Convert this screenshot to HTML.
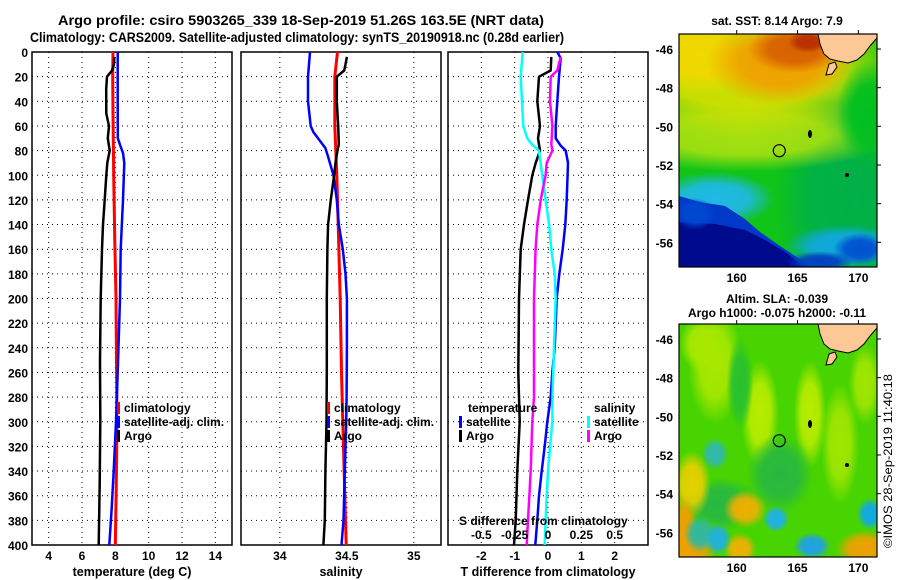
<!DOCTYPE html>
<html><head><meta charset="utf-8">
<style>
html,body{margin:0;padding:0;background:#fff;}
svg{display:block;font-family:"Liberation Sans",Arial,sans-serif;font-weight:bold;}
</style></head>
<body>
<svg id="chart" width="900" height="580" viewBox="0 0 900 580" xmlns="http://www.w3.org/2000/svg">
<defs id="defs">
  <clipPath id="clipTop"><rect x="679" y="34" width="198" height="233"/></clipPath>
  <clipPath id="clipBot"><rect x="679" y="324" width="198" height="233"/></clipPath>
</defs>
<text x="58" y="25" font-size="13.5" textLength="486" lengthAdjust="spacingAndGlyphs">Argo profile: csiro 5903265_339 18-Sep-2019 51.26S 163.5E (NRT data)</text>
<text x="30" y="42" font-size="13.5" textLength="534" lengthAdjust="spacingAndGlyphs">Climatology: CARS2009. Satellite-adjusted climatology: synTS_20190918.nc (0.28d earlier)</text>
<g id="panels"></g>
<g id="maps"></g>
<text transform="translate(892,548) rotate(-90)" font-size="12" font-weight="normal" textLength="174" lengthAdjust="spacingAndGlyphs">©IMOS 28-Sep-2019 11:40:18</text>
</svg>
<script>
// ---------- data ----------
const depthTicks = [0,20,40,60,80,100,120,140,160,180,200,220,240,260,280,300,320,340,360,380,400];
const tempTicks = [4,6,8,10,12,14];
const salTicks = [34,34.5,35];
const diffTTicks = [-2,-1,0,1,2];
const diffSTicks = [-0.5,-0.25,0,0.25,0.5];

const climTDepth = [0,20,50,100,150,200,250,300,350,400];
const climTVal   = [7.86,7.84,7.86,7.9,7.96,8.04,8.07,8.1,8.06,8.0];
const satTDepth = [0,40,70,76,82,90,120,160,200,260,300,340,370,400];
const satTVal   = [8.14,8.14,8.15,8.3,8.46,8.54,8.46,8.32,8.28,8.14,8.04,7.9,7.78,7.64];
const argoTDepth = [4,10,15,20,30,50,60,70,80,90,100,120,140,160,200,250,300,350,400];
const argoTVal   = [7.94,7.92,7.8,7.5,7.45,7.46,7.62,7.55,7.66,7.52,7.46,7.36,7.26,7.2,7.12,7.08,7.1,7.06,7.0];

const climSDepth = [0,20,60,100,140,200,260,300,360,400];
const climSVal   = [34.43,34.41,34.41,34.425,34.435,34.45,34.46,34.47,34.485,34.495];
const satSDepth = [0,20,40,60,65,70,78,85,100,120,140,160,180,200,240,280,300,340,380,400];
const satSVal   = [34.225,34.21,34.21,34.23,34.25,34.285,34.34,34.36,34.4,34.425,34.44,34.47,34.49,34.5,34.5,34.498,34.495,34.485,34.475,34.46];
const argoSDepth = [4,10,15,20,40,60,75,80,90,100,120,140,160,200,260,300,340,380,400];
const argoSVal   = [34.5,34.49,34.48,34.425,34.425,34.435,34.44,34.43,34.415,34.405,34.38,34.36,34.355,34.35,34.35,34.348,34.34,34.335,34.325];

const dSatTDepth = [0,5,20,40,60,70,76,80,90,120,140,160,180,200,240,260,280,300,320,340,360,380,400];
const dSatTVal   = [0.28,0.38,0.33,0.28,0.23,0.23,0.38,0.53,0.6,0.56,0.52,0.44,0.34,0.26,0.2,0.13,0.08,-0.02,-0.1,-0.19,-0.27,-0.32,-0.38];
const dArgoTDepth = [4,15,20,40,60,70,80,90,100,120,140,160,200,260,300,340,380,400];
const dArgoTVal   = [0.1,0.08,-0.27,-0.32,-0.24,-0.3,-0.24,-0.37,-0.47,-0.6,-0.72,-0.82,-0.87,-0.89,-0.85,-0.92,-0.97,-1.02];
const dSatSDepth = [0,20,60,70,75,80,100,120,140,160,180,200,240,280,300,320,340,360,380,400];
const dSatSVal   = [-0.19,-0.205,-0.185,-0.155,-0.12,-0.068,-0.043,-0.018,0.008,0.025,0.05,0.058,0.045,0.033,0.033,0.015,0,-0.01,-0.018,-0.025];
const dArgoSDepth = [4,15,20,40,60,75,80,90,100,120,140,160,200,240,280,300,340,380,400];
const dArgoSVal   = [0.095,0.07,0.02,0.015,0.033,0.025,0.033,-0.01,-0.018,-0.055,-0.08,-0.093,-0.105,-0.105,-0.105,-0.118,-0.13,-0.15,-0.16];

const mapLatTicks = [-46,-48,-50,-52,-54,-56];
const mapLonTicks = [160,165,170];
const argoLon = 163.5, argoLat = -51.26;

// ---------- helpers ----------
const NS = "http://www.w3.org/2000/svg";
function mk(tag, attrs, parent){ const e=document.createElementNS(NS,tag); for(const k in attrs) e.setAttribute(k,attrs[k]); parent.appendChild(e); return e; }
const Y0=52, Y1=545;
function yD(d){ return Y0 + d/400*(Y1-Y0); }
function xT(v){ return 32 + (v-3)*200/12; }
function xS(v){ return 241 + (v-33.71)*134; }
function xDT(v){ return 548 + v*33.33; }
function xDS(v){ return 548 + v*4*33.33; }
const panels = document.getElementById('panels');
const defs = document.getElementById('defs');

function panelFrame(name, x0, xTicksArr, xf, tickLabelFn, xTitle, showY){
  const g = mk('g',{},panels);
  
  
  xTicksArr.forEach(t=>{
    const l = mk('line',{x1:xf(t),x2:xf(t),y1:Y0,y2:Y1,stroke:'#000','stroke-width':1,'stroke-dasharray':'1,4'},g);
    
    
    const tx = mk('text',{x:xf(t),y:Y1+15,'font-size':12,'text-anchor':'middle'},g);
    
    
    tx.textContent = tickLabelFn(t);
  });
  depthTicks.forEach(d=>{
    if(d>0 && d<400){
      const l = mk('line',{x1:x0,x2:x0+200,y1:yD(d),y2:yD(d),stroke:'#000','stroke-width':1,'stroke-dasharray':'1,4'},g);
      
      
    }
    if(showY){
      const tx = mk('text',{x:28,y:yD(d)+5,'font-size':12,'text-anchor':'end'},g);
      
      
      tx.textContent = d;
    }
  });
  const r = mk('rect',{x:x0,y:Y0,width:200,height:Y1-Y0,fill:'none',stroke:'#000','stroke-width':1.5},g);
  
  
  const t = mk('text',{x:x0+100,y:576,'font-size':12.5,'text-anchor':'middle'},g);
  
  
  t.textContent = xTitle;
  return g;
}
function series(g, name, depths, vals, xf, color, w){
  const pts = depths.map((d,i)=> xf(vals[i]).toFixed(1)+','+yD(d).toFixed(1)).join(' ');
  const p = mk('polyline',{points:pts,fill:'none',stroke:color,'stroke-width':w,'stroke-linejoin':'round'},g);
  
  
}
function legendItem(g, name, x, y, color, label){
  const r = mk('rect',{x:x,y:y-10,width:3,height:12,fill:color},g);
  
  
  const t = mk('text',{x:x+7,y:y,'font-size':12},g);
  
  
  t.textContent = label;
}

// Temperature panel
const gT = panelFrame('temperature-panel', 32, tempTicks, xT, t=>t, 'temperature (deg C)', true);
series(gT,'climatology-temperature-line',climTDepth,climTVal,xT,'#ff0000',3);
series(gT,'satellite-temperature-line',satTDepth,satTVal,xT,'#0000ff',2.5);
series(gT,'argo-temperature-line',argoTDepth,argoTVal,xT,'#000',2.5);
legendItem(gT,'legend-climatology',117,412,'#ff0000','climatology');
legendItem(gT,'legend-satellite-adj',117,426,'#0000ff','satellite-adj. clim.');
legendItem(gT,'legend-argo',117,440,'#000','Argo');

// Salinity panel
const gS = panelFrame('salinity-panel', 241, salTicks, xS, t=>t, 'salinity', false);
series(gS,'climatology-salinity-line',climSDepth,climSVal,xS,'#ff0000',3);
series(gS,'satellite-salinity-line',satSDepth,satSVal,xS,'#0000ff',2.5);
series(gS,'argo-salinity-line',argoSDepth,argoSVal,xS,'#000',2.5);
legendItem(gS,'legend-s-climatology',327,412,'#ff0000','climatology');
legendItem(gS,'legend-s-satellite-adj',327,426,'#0000ff','satellite-adj. clim.');
legendItem(gS,'legend-s-argo',327,440,'#000','Argo');

// Difference panel
const gD = panelFrame('difference-panel', 448, diffTTicks, xDT, t=>t, 'T difference from climatology', false);
series(gD,'satellite-t-diff-line',dSatTDepth,dSatTVal,xDT,'#0000ff',2.5);
series(gD,'argo-t-diff-line',dArgoTDepth,dArgoTVal,xDT,'#000',2.5);
series(gD,'satellite-s-diff-line',dSatSDepth,dSatSVal,xDS,'#00ffff',2.5);
series(gD,'argo-s-diff-line',dArgoSDepth,dArgoSVal,xDS,'#ff00ff',2.5);
(function(){
  const t1 = mk('text',{x:468,y:412,'font-size':12},gD);
  
  
  t1.textContent='temperature';
  const t2 = mk('text',{x:594,y:412,'font-size':12},gD);
  
  
  t2.textContent='salinity';
  legendItem(gD,'legend-t-satellite',459,426,'#0000ff','satellite');
  legendItem(gD,'legend-t-argo',459,440,'#000','Argo');
  legendItem(gD,'legend-s-satellite',587,426,'#00ffff','satellite');
  legendItem(gD,'legend-s-argo',587,440,'#ff00ff','Argo');
  const st = mk('text',{x:459,y:525,'font-size':12},gD);
  
  
  st.textContent='S difference from climatology';
  diffSTicks.forEach(s=>{
    const tx = mk('text',{x:xDS(s),y:539,'font-size':12,'text-anchor':'middle'},gD);
    
    
    tx.textContent = s;
  });
})();

// ---------- maps ----------
const maps = document.getElementById('maps');
function lonX(l){ return 736.7 + (l-160)*12.17; }
function latYTop(l){ return 49 + (-46-l)*19.33; }
function latYBot(l){ return 339 + (-46-l)*19.33; }
let gradId = 0;
function softFill(color){
  const id = 'rg'+(gradId++);
  const rg = mk('radialGradient',{id:id},defs);
  mk('stop',{offset:'0','stop-color':color,'stop-opacity':1},rg);
  mk('stop',{offset:'0.55','stop-color':color,'stop-opacity':0.9},rg);
  mk('stop',{offset:'1','stop-color':color,'stop-opacity':0},rg);
  return 'url(#'+id+')';
}

function mapFrame(name, top, latf, blobs, titleLines){
  const g = mk('g',{},maps);
  
  
  const inner = mk('g',{'clip-path': top===34?'url(#clipTop)':'url(#clipBot)'},g);
  blobs.forEach(b=>{
    let e;
    if(b[0]==='r') e = mk('rect',{x:b[1],y:top+b[2],width:b[3],height:b[4],fill:b[5]},inner);
    else if(b[0]==='e') e = mk('ellipse',{cx:b[1],cy:top+b[2],rx:b[3]*1.35,ry:b[4]*1.35,fill:softFill(b[5])},inner);
    else e = mk('polygon',{points:b[1].map(p=>p[0]+','+(top+p[1])).join(' '),fill:b[2],'stroke-linejoin':'round'},inner);
    
    
  });
  const land = mk('polygon',{points:[[818,0],[877,0],[877,4],[870,12],[864,20],[857,26],[848,29],[838,27],[830,25],[824,20],[820,10]].map(p=>p[0]+','+(top+p[1])).join(' '),fill:'#fbc896',stroke:'#000','stroke-width':1},inner);
  
  
  const isl = mk('polygon',{points:[[829,30],[835,28],[837,33],[832,40],[826,41]].map(p=>p[0]+','+(top+p[1])).join(' '),fill:'#fbc896',stroke:'#000','stroke-width':1},inner);
  
  
  const isl2 = mk('ellipse',{cx:810,cy:top+100,rx:2,ry:4,fill:'#000'},inner);
  
  
  const isl3 = mk('circle',{cx:847,cy:top+141,r:2,fill:'#000'},inner);
  
  
  const circ = mk('circle',{cx:lonX(argoLon),cy:latf(argoLat),r:6,fill:'none',stroke:'#000','stroke-width':1.2},g);
  
  
  const fr = mk('rect',{x:679,y:top,width:198,height:233,fill:'none',stroke:'#000','stroke-width':1.2},g);
  
  
  mapLatTicks.forEach(l=>{
    const tx = mk('text',{x:673,y:latf(l)+5,'font-size':12,'text-anchor':'end'},g);
    
    
    tx.textContent = l;
    mk('line',{x1:877,x2:881,y1:latf(l),y2:latf(l),stroke:'#000'},g);
  });
  mapLonTicks.forEach(l=>{
    const tx = mk('text',{x:lonX(l),y:top+248,'font-size':12,'text-anchor':'middle'},g);
    
    
    tx.textContent = l;
    mk('line',{x1:lonX(l),x2:lonX(l),y1:top-4,y2:top,stroke:'#000'},g);
  });
  titleLines.forEach((s,i)=>{
    const tx = mk('text',{x:777,y:s[1],'font-size':12,'text-anchor':'middle'},g);
    
    
    tx.textContent = s[0];
  });
}
mapFrame('sst-map',34,latYTop,[
  ['r',679,0,198,233,'#10c418'],
  ['e',855,165,60,100,'#00b048'],
  ['e',745,100,110,28,'#a8e010'],
  ['e',745,35,120,50,'#d8e000'],
  ['e',700,20,40,30,'#f0d800'],
  ['e',780,28,55,32,'#f0a000'],
  ['e',795,15,35,18,'#d86000'],
  ['e',808,8,15,8,'#b83000'],
  ['e',870,80,25,40,'#00c020'],
  ['e',715,165,45,20,'#20b8e8'],
  ['p',[[679,162],[700,168],[725,172],[745,185],[760,198],[780,212],[800,225],[812,233],[679,233]],'#0038c8'],
  ['p',[[679,188],[715,190],[745,196],[765,206],[785,218],[805,233],[679,233]],'#000a8c'],
  ['e',695,180,15,12,'#0048d0'],
  ['e',845,212,45,16,'#10a8e0'],
  ['e',860,215,20,12,'#0050d0'],
  ['e',820,228,25,8,'#0040c0']
],[['sat. SST: 8.14 Argo: 7.9',25]]);
mapFrame('sla-map',324,latYBot,[
  ['r',679,0,198,233,'#48d400'],
  ['e',715,40,20,45,'#a8e800'],
  ['e',760,90,14,40,'#b8ec00'],
  ['e',810,90,12,40,'#b8ec00'],
  ['e',840,120,14,45,'#a0e600'],
  ['e',865,60,12,30,'#a0e600'],
  ['e',700,20,15,20,'#a8e800'],
  ['e',740,60,10,35,'#28c030'],
  ['e',780,150,25,30,'#28b840'],
  ['e',720,180,30,20,'#28b840'],
  ['e',692,160,14,25,'#e8d000'],
  ['e',684,205,10,25,'#f0a000'],
  ['e',745,185,16,14,'#f0b000'],
  ['e',690,225,20,15,'#f0a000'],
  ['e',740,225,12,12,'#f0b000'],
  ['e',865,225,22,14,'#f0a000'],
  ['e',715,130,10,12,'#30b8b0'],
  ['e',700,210,12,14,'#30b8a0'],
  ['e',718,215,10,12,'#20b0e0'],
  ['e',776,195,10,10,'#20b0e8'],
  ['e',812,222,14,10,'#20a0e8'],
  ['e',870,190,10,12,'#10a8e8']
],[['Altim. SLA: -0.039',303],['Argo h1000: -0.075 h2000: -0.11',317]]);
</script>
</body></html>
